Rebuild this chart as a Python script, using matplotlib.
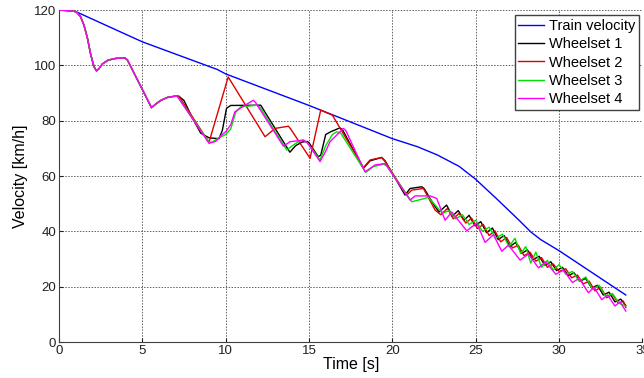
"""
Train and wheelset velocity during braking
"""
import matplotlib
matplotlib.use('Agg')
import matplotlib.pyplot as plt

plt.rcParams['font.family'] = ['Liberation Sans', 'DejaVu Sans']

# common start of all wheelsets (identical until ~7 s)
t_start = [0, 0.9, 1.1, 1.3, 1.5, 1.7, 1.9, 2.1, 2.25, 2.4, 2.6, 2.95, 3.4, 3.95, 4.1,
           5.55, 5.8, 6.1, 6.5, 7.0]
v_start = [120, 119.6, 119.0, 117.5, 114.5, 110, 104, 99.5, 98, 98.8, 100.5, 101.9, 102.5, 102.7, 102,
           84.7, 86.0, 87.3, 88.4, 88.9]

# train velocity
t_train = [0, 0.8, 5, 9.5, 10, 15, 20, 21.5, 22.7, 24, 25, 26.3, 27.6, 28.3, 28.9, 30, 32, 34]
v_train = [120, 120, 108.5, 98.5, 96.9, 85.5, 73.5, 70.6, 67.6, 63.5, 58.8, 51.5, 44, 39.8, 37, 33, 25, 17]

# wheelset 1
t_ws1 = [7.2, 7.5, 8.0, 8.5, 9.0, 9.6, 9.8, 10.05, 10.3, 12.1, 13.85, 14.2, 14.6, 14.9, 15.0,
         15.55, 15.7, 16.0, 16.3, 16.85, 17.0, 18.26, 18.66, 19.36, 19.56, 20.76, 21.06, 21.76,
         21.9, 22.56, 22.8, 23.25, 23.6, 23.95, 24.3, 24.6, 24.95, 25.3, 25.65, 26.0, 26.35,
         26.7, 27.05, 27.4, 27.75, 28.1, 28.45, 28.8, 29.15, 29.5, 29.85, 30.2, 30.55, 30.9,
         31.25, 31.6, 31.95, 32.3, 32.65, 33.0, 33.35, 33.7, 34.0]
v_ws1 = [88.8, 87.3, 81.0, 75.5, 73.8, 73.5, 76.5, 84.5, 85.5, 85.6, 68.6, 71.0, 72.3, 72.5, 72.0,
         67.0, 67.5, 75.0, 76.0, 77.4, 76.8, 62.8, 65.5, 66.7, 65.5, 53.1, 55.5, 56.1,
         55.5, 48.9, 47.0, 49.5, 45.5, 47.5, 44.0, 45.8, 42.0, 43.5, 39.5, 41.2, 37.0,
         38.5, 34.5, 36.0, 32.0, 33.3, 29.8, 31.0, 27.8, 29.0, 25.8, 27.0, 24.0, 25.0,
         22.0, 23.0, 19.5, 20.5, 17.0, 18.0, 14.5, 15.5, 13.2]

# wheelset 2
t_ws2 = [7.2, 9.0, 10.15, 12.36, 12.96, 13.76, 13.9, 15.06, 15.7, 16.4, 18.26, 18.66, 19.36,
         19.56, 20.86, 21.16, 21.86, 22.56, 22.9, 23.3, 23.65, 24.0, 24.4, 24.75, 25.1, 25.45,
         25.8, 26.15, 26.5, 26.85, 27.2, 27.55, 27.9, 28.25, 28.6, 28.95, 29.3, 29.65, 30.0,
         30.4, 30.75, 31.1, 31.45, 31.8, 32.15, 32.5, 32.85, 33.2, 33.55, 33.85, 34.0]
v_ws2 = [88.8, 72.2, 95.8, 74.2, 77.2, 78.0, 77.0, 66.4, 83.8, 82.0, 63.0, 65.8, 66.7,
         65.2, 53.1, 54.9, 55.5, 47.7, 46.0, 48.3, 44.5, 46.5, 43.0, 44.8, 41.0, 42.5,
         38.5, 40.2, 36.2, 37.8, 34.0, 35.0, 31.2, 32.5, 29.2, 30.5, 27.0, 28.2, 25.5,
         26.5, 23.2, 24.2, 21.0, 22.0, 18.5, 19.8, 16.0, 17.2, 14.0, 14.8, 12.5]

# wheelset 3
t_ws3 = [7.1, 9.0, 9.2, 9.5, 10.0, 10.3, 10.6, 10.9, 11.9, 12.1, 13.66, 13.9, 14.3, 14.66,
         14.9, 15.66, 16.0, 16.4, 16.66, 16.9, 18.4, 18.86, 19.46, 19.7, 21.16, 21.76, 22.16,
         23.0, 23.4, 23.8, 24.2, 24.6, 25.0, 25.4, 25.8, 26.2, 26.6, 27.0, 27.35, 27.7, 28.0,
         28.3, 28.6, 28.95, 29.3, 29.65, 30.0, 30.4, 30.8, 31.2, 31.6, 32.0, 32.4, 32.8,
         33.2, 33.6, 34.0]
v_ws3 = [88.8, 72.2, 72.3, 73.5, 75.0, 77.0, 83.0, 85.0, 85.6, 84.5, 69.4, 70.5, 72.2, 73.0,
         72.0, 65.8, 71.0, 75.0, 76.0, 75.5, 61.3, 63.4, 64.3, 63.5, 50.7, 51.6, 52.3,
         46.5, 47.5, 44.5, 46.0, 42.5, 44.0, 40.0, 41.5, 37.5, 39.0, 34.5, 37.5, 32.0, 34.5,
         28.5, 32.5, 27.0, 29.5, 26.0, 28.0, 24.5, 25.5, 22.0, 23.5, 19.0, 20.5, 16.5,
         17.5, 14.0, 13.0]

# wheelset 4
t_ws4 = [7.1, 9.0, 9.4, 9.7, 10.0, 10.3, 10.55, 11.0, 11.66, 11.8, 13.46, 13.86, 14.66, 14.9,
         15.66, 16.0, 16.26, 17.06, 17.2, 18.36, 18.96, 19.56, 21.06, 21.36, 22.26, 22.66,
         23.16, 23.56, 24.46, 25.06, 25.56, 26.06, 26.56, 26.96, 27.66, 28.16, 28.76, 29.2,
         29.8, 30.26, 30.8, 31.2, 31.76, 32.1, 32.56, 32.9, 33.35, 33.65, 34.0]
v_ws4 = [88.8, 71.8, 72.5, 74.5, 76.0, 78.5, 83.2, 85.0, 87.4, 86.5, 70.8, 72.4, 73.0, 72.0,
         65.2, 69.0, 72.4, 77.2, 76.5, 61.5, 64.0, 64.5, 51.3, 52.8, 52.8, 51.9,
         44.0, 47.0, 40.2, 43.0, 36.0, 38.8, 32.8, 35.0, 29.6, 31.8, 26.8, 29.0,
         24.5, 26.0, 21.5, 23.0, 17.8, 19.8, 15.3, 17.0, 13.0, 14.5, 11.2]

labels = ['Train velocity', 'Wheelset 1', 'Wheelset 2', 'Wheelset 3', 'Wheelset 4']

fig = plt.figure(figsize=(6.44, 3.78), dpi=100)
ax = fig.add_axes([0.0916, 0.0952, 0.906, 0.8783])

ax.plot(t_train, v_train, color='#0000ff', linewidth=1.0, label=labels[0])
ax.plot(t_start + t_ws1, v_start + v_ws1, color='black', linewidth=1.0, label=labels[1])
ax.plot(t_start + t_ws2, v_start + v_ws2, color='#e00000', linewidth=1.0, label=labels[2])
ax.plot(t_start + t_ws3, v_start + v_ws3, color='#00e000', linewidth=1.0, label=labels[3])
ax.plot(t_start + t_ws4, v_start + v_ws4, color='#ff00ff', linewidth=1.0, label=labels[4])

ax.set_xlim(0, 35)
ax.set_ylim(0, 120)
ax.set_xticks(range(0, 36, 5))
ax.set_yticks(range(0, 121, 20))
ax.grid(True, linestyle=(0, (1.5, 1.5)), color='#606060', linewidth=0.7)
ax.spines['top'].set_visible(False)
ax.spines['right'].set_visible(False)
ax.spines['left'].set_color('#404040')
ax.spines['bottom'].set_color('#404040')
ax.tick_params(direction='in', length=3, labelsize=9.5, colors='#202020', pad=2)
ax.set_xlabel('Time [s]', fontsize=11.5, labelpad=0)
ax.set_ylabel('Velocity [km/h]', fontsize=11.5, labelpad=4)

leg = ax.legend(loc='upper right', bbox_to_anchor=(0.992, 0.960), bbox_transform=fig.transFigure,
                fontsize=10.5, fancybox=False, edgecolor='#404040', framealpha=1,
                handlelength=1.8, handletextpad=0.3, labelspacing=0.3, borderpad=0.25,
                borderaxespad=0)
leg.get_frame().set_linewidth(1.0)

fig.savefig('out.png', dpi=100)
